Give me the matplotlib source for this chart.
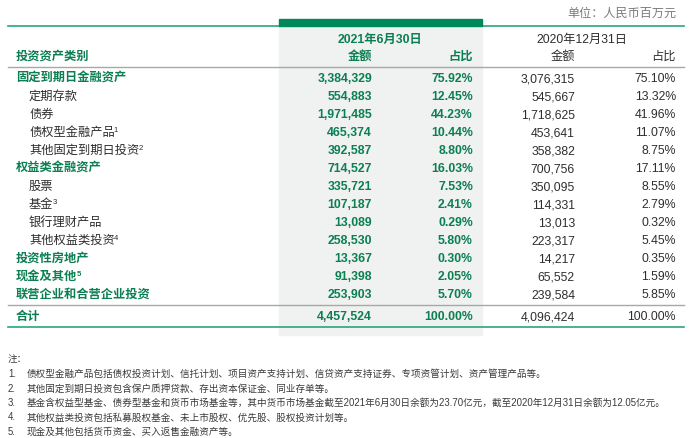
import matplotlib
matplotlib.use("Agg")
import matplotlib.pyplot as plt
from matplotlib.patches import Rectangle

plt.rcParams['font.family'] = ['Liberation Sans', 'Noto Sans CJK SC', 'DejaVu Sans']

# table data
names = ["固定到期日金融资产", "定期存款", "债券", "债权型金融产品", "其他固定到期日投资",
         "权益类金融资产", "股票", "基金", "银行理财产品", "其他权益类投资",
         "投资性房地产", "现金及其他", "联营企业和合营企业投资"]
level = [0, 1, 1, 1, 1, 0, 1, 1, 1, 1, 0, 0, 0]
marks = ["", "", "", "1", "2", "", "", "3", "", "4", "", "5", ""]
amt21 = [3384329, 554883, 1971485, 465374, 392587, 714527, 335721, 107187,
         13089, 258530, 13367, 91398, 253903]
pct21 = [75.92, 12.45, 44.23, 10.44, 8.80, 16.03, 7.53, 2.41, 0.29, 5.80, 0.30, 2.05, 5.70]
amt20 = [3076315, 545667, 1718625, 453641, 358382, 700756, 350095, 114331,
         13013, 223317, 14217, 65552, 239584]
pct20 = [75.10, 13.32, 41.96, 11.07, 8.75, 17.11, 8.55, 2.79, 0.32, 5.45, 0.35, 1.59, 5.85]
total_label = "合计"
total21 = (4457524, 100.00)
total20 = (4096424, 100.00)

unit = "单位：人民币百万元"
head21 = "2021年6月30日"
head20 = "2020年12月31日"
col_cat = "投资资产类别"
col_amt = "金额"
col_pct = "占比"

notes_title = "注："
notes = [
    "债权型金融产品包括债权投资计划、信托计划、项目资产支持计划、信贷资产支持证券、专项资管计划、资产管理产品等。",
    "其他固定到期日投资包含保户质押贷款、存出资本保证金、同业存单等。",
    "基金含权益型基金、债券型基金和货币市场基金等，其中货币市场基金截至2021年6月30日余额为23.70亿元，截至2020年12月31日余额为12.05亿元。",
    "其他权益类投资包括私募股权基金、未上市股权、优先股、股权投资计划等。",
    "现金及其他包括货币资金、买入返售金融资产等。",
]

GREEN = "#00875a"
TXT_GREEN = "#0b7f52"
LINE_GREEN = "#2aa57c"
DARK = "#2e2e2e"
GRAY = "#7a7a7a"
SHADE = "#f0f1f1"

fig = plt.figure(figsize=(7, 4.38), dpi=100)
ax = fig.add_axes([0, 0, 1, 1])
ax.set_xlim(0, 700)
ax.set_ylim(438, 0)
ax.axis("off")

left, right = 8, 684
c1_l, c1_r = 279, 482
x_amt21, x_pct21, x_amt20, x_pct20 = 372, 473, 575, 676
fs = 8.8

# shaded column + header bar
ax.add_patch(Rectangle((c1_l, 26), c1_r - c1_l, 309, color=SHADE, zorder=0))
ax.add_patch(Rectangle((c1_l, 19), c1_r - c1_l, 7, color=GREEN, zorder=2))
ax.plot([left, right], [26, 26], color=LINE_GREEN, lw=1.2, zorder=1)

ax.text(x_pct20, 14, unit, ha="right", va="center", fontsize=8.7, color=GRAY)
ax.text(380, 40, head21, ha="center", va="center",
        fontsize=fs, color=TXT_GREEN, fontweight="bold")
ax.text(582, 40, head20, ha="center", va="center", fontsize=fs, color=DARK)
ax.text(16, 57, col_cat, ha="left", va="center", fontsize=fs, color=TXT_GREEN, fontweight="bold")
for x, s, bold in [(x_amt21, col_amt, True), (x_pct21, col_pct, True),
                   (x_amt20, col_amt, False), (x_pct20, col_pct, False)]:
    ax.text(x, 57, s, ha="right", va="center", fontsize=fs,
            color=TXT_GREEN if bold else DARK, fontweight="bold" if bold else "normal")
ax.plot([left, right], [67, 67], color="#a8a8a8", lw=1.0)

fig.canvas.draw()
renderer = fig.canvas.get_renderer()
inv = ax.transData.inverted()

y0, dy = 79, 18
for i, name in enumerate(names):
    y = y0 + i * dy
    cat = level[i] == 0
    t = ax.text(16 if cat else 29, y, name, ha="left", va="center", fontsize=fs,
                color=TXT_GREEN if cat else DARK, fontweight="bold" if cat else "normal")
    if marks[i]:
        bb = t.get_window_extent(renderer)
        xs, ys = inv.transform((bb.x1, bb.y1))
        ax.text(xs - 1.0, ys, marks[i], ha="left", va="top", fontsize=5.5,
                color=TXT_GREEN if cat else DARK, fontweight="bold" if cat else "normal")
    ax.text(x_amt21, y, f"{amt21[i]:,}", ha="right", va="center", fontsize=fs,
            color=TXT_GREEN, fontweight="bold")
    ax.text(x_pct21, y, f"{pct21[i]:.2f}%", ha="right", va="center", fontsize=fs,
            color=TXT_GREEN, fontweight="bold")
    ax.text(x_amt20, y, f"{amt20[i]:,}", ha="right", va="center", fontsize=fs, color=DARK)
    ax.text(x_pct20, y, f"{pct20[i]:.2f}%", ha="right", va="center", fontsize=fs, color=DARK)

ax.plot([left, right], [305, 305], color="#a8a8a8", lw=1.0)
yt = 317
ax.text(16, yt, total_label, ha="left", va="center", fontsize=fs, color=TXT_GREEN, fontweight="bold")
ax.text(x_amt21, yt, f"{total21[0]:,}", ha="right", va="center", fontsize=fs,
        color=TXT_GREEN, fontweight="bold")
ax.text(x_pct21, yt, f"{total21[1]:.2f}%", ha="right", va="center", fontsize=fs,
        color=TXT_GREEN, fontweight="bold")
ax.text(x_amt20, yt, f"{total20[0]:,}", ha="right", va="center", fontsize=fs, color=DARK)
ax.text(x_pct20, yt, f"{total20[1]:.2f}%", ha="right", va="center", fontsize=fs, color=DARK)
ax.plot([left, right], [327, 327], color=LINE_GREEN, lw=1.2)

# footnotes
nfs = 6.9
ncol = "#3a3a3a"
ax.text(8, 359, notes_title, ha="left", va="center", fontsize=nfs, color=ncol)
for k, s in enumerate(notes):
    y = 374 + k * 14.5
    ax.text(8, y, f"{k + 1}.", ha="left", va="center", fontsize=nfs, color=ncol)
    ax.text(27, y, s, ha="left", va="center", fontsize=nfs, color=ncol)

fig.savefig("out.png", dpi=100)
